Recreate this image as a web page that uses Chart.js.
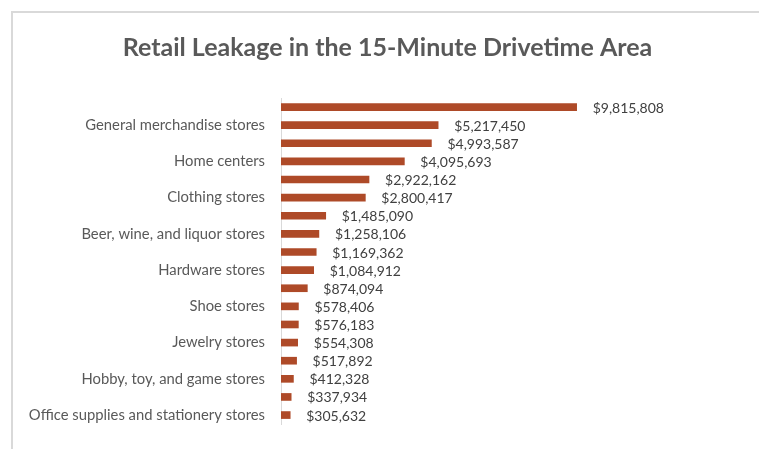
<!DOCTYPE html>
<html>
<head>
<meta charset="utf-8">
<script src="https://cdn.jsdelivr.net/npm/chart.js@4.4.1/dist/chart.umd.min.js"></script>
<style>
  html, body { margin: 0; padding: 0; background: #fff; }
  #frame { position: absolute; left: 11px; top: 11px; width: 760px; height: 450px;
           border-left: 2px solid #d9d9d9; border-top: 2px solid #d9d9d9; }
  #wrap { position: absolute; left: 0; top: 0; width: 759px; height: 449px; }
</style>
</head>
<body>
<div id="frame"></div>
<div id="wrap"><canvas id="leakChart" width="759" height="449"></canvas></div>
<script>
// categories (only every other one is labelled in the source chart)
const categories = [
  '', 'General merchandise stores',
  '', 'Home centers',
  '', 'Clothing stores',
  '', 'Beer, wine, and liquor stores',
  '', 'Hardware stores',
  '', 'Shoe stores',
  '', 'Jewelry stores',
  '', 'Hobby, toy, and game stores',
  '', 'Office supplies and stationery stores'
];
const leakage = [
  9815808, 5217450, 4993587, 4095693, 2922162, 2800417,
  1485090, 1258106, 1169362, 1084912, 874094, 578406,
  576183, 554308, 517892, 412328, 337934, 305632
];

const fmt = v => '$' + v.toLocaleString('en-US');

// draws the value next to each bar end
const valueLabels = {
  id: 'valueLabels',
  afterDatasetsDraw(chart) {
    const ctx = chart.ctx;
    const meta = chart.getDatasetMeta(0);
    ctx.save();
    ctx.font = '14px Lato';
    ctx.fillStyle = '#404040';
    ctx.textAlign = 'left';
    ctx.textBaseline = 'middle';
    meta.data.forEach((bar, i) => {
      ctx.fillText(fmt(leakage[i]), bar.x + 16, bar.y + 1);
    });
    ctx.restore();
  }
};

const ctx = document.getElementById('leakChart').getContext('2d');
const leakChart = new Chart(ctx, {
  type: 'bar',
  data: {
    labels: categories,
    datasets: [{
      data: leakage,
      backgroundColor: '#ae4a28',
      barThickness: 7
    }]
  },
  options: {
    indexAxis: 'y',
    responsive: false,
    animation: false,
    layout: { padding: { left: 16, right: 0, top: 0, bottom: 24 } },
    plugins: {
      legend: { display: false },
      tooltip: { enabled: false },
      title: {
        display: true,
        text: 'Retail Leakage in the 15-Minute Drivetime Area',
        color: '#595959',
        font: { family: 'Lato', size: 25, weight: 'bold' },
        padding: { top: 33, bottom: 35 }
      }
    },
    scales: {
      x: {
        display: false,
        min: 0,
        max: 15870000
      },
      y: {
        afterFit(scale) { scale.width = 265; },
        grid: { display: true, drawOnChartArea: false, drawTicks: false },
        border: { color: '#d9d9d9', width: 1 },
        ticks: {
          autoSkip: false,
          padding: 16,
          color: '#595959',
          font: { family: 'Lato', size: 14.8 }
        }
      }
    }
  },
  plugins: [valueLabels]
});
</script>
</body>
</html>
